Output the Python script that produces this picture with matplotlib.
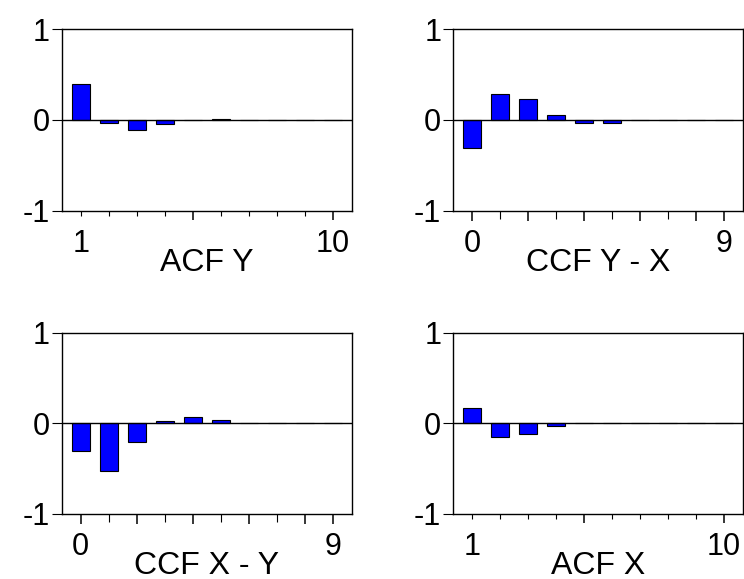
# acf_ccf_plot.py
# Correlogram panels: ACF of Y, CCF Y-X, CCF X-Y, ACF of X

import matplotlib
matplotlib.use("Agg")
import matplotlib.pyplot as plt

# ------------------------------
# Data
# ------------------------------
lags_acf = [1, 2, 3, 4, 5, 6, 7, 8, 9, 10]
lags_ccf = [0, 1, 2, 3, 4, 5, 6, 7, 8, 9]

acf_y = [0.40, -0.03, -0.114, -0.048, 0.0, 0.01, 0.003, 0.003, 0.0, 0.0]
ccf_yx = [-0.305, 0.283, 0.23, 0.055, -0.03, -0.03, 0.0, 0.003, 0.003, 0.003]
ccf_xy = [-0.30, -0.53, -0.205, 0.03, 0.07, 0.04, 0.0, 0.0, 0.0, 0.0]
acf_x = [0.165, -0.155, -0.12, -0.026, 0.005, 0.005, 0.002, 0.0, 0.0, 0.0]

acf_ticklabels = ["1", "", "", "", "", "", "", "", "", "10"]
ccf_ticklabels = ["0", "", "", "", "", "", "", "", "", "9"]
y_ticks = [-1, 0, 1]
y_ticklabels = ["-1", "0", "1"]

titles = ["ACF Y", "CCF Y - X", "CCF X - Y", "ACF X"]

plt.rcParams["font.family"] = ["Liberation Sans", "DejaVu Sans"]

fig = plt.figure(figsize=(7.44, 5.79), dpi=100)

# axes boxes in figure fractions [left, bottom, width, height]
boxes = [
    [0.0829, 0.6361, 0.3902, 0.3133],
    [0.6093, 0.6361, 0.3894, 0.3133],
    [0.0829, 0.1123, 0.3902, 0.3131],
    [0.6093, 0.1123, 0.3894, 0.3131],
]

panels = [
    (lags_acf, acf_y, acf_ticklabels, "acf"),
    (lags_ccf, ccf_yx, ccf_ticklabels, "ccf"),
    (lags_ccf, ccf_xy, ccf_ticklabels, "ccf"),
    (lags_acf, acf_x, acf_ticklabels, "acf"),
]

for box, (lags, vals, xlabels, kind), title in zip(boxes, panels, titles):
    ax = fig.add_axes(box)
    ax.bar(lags, vals, width=0.65, color="#0000FF", edgecolor="black",
           linewidth=0.8, zorder=2)
    ax.axhline(0, color="black", linewidth=1.0, zorder=3)

    ax.set_ylim(-1, 1)
    ax.set_yticks(y_ticks)
    ax.set_yticklabels(y_ticklabels)
    ax.tick_params(axis="y", direction="out", length=7.2, width=0.8,
                   pad=1.5, labelsize=22)

    ax.set_xticks(lags)
    ax.set_xticklabels(xlabels)
    ax.set_xlim(lags[0] - 0.68, lags[-1] + 0.69)

    if kind == "acf":
        ax.tick_params(axis="x", direction="out", length=3.6, width=0.8,
                       pad=9.6, labelsize=22)
        # longer ticks at lags 5 and 10
        for t, lag in zip(ax.xaxis.get_major_ticks(), lags):
            if lag in (5, 10):
                t.tick1line.set_markersize(6.5)
                t.tick1line.set_markeredgewidth(1.1)
    else:
        ax.tick_params(axis="x", direction="out", length=6.0, width=0.8,
                       pad=7.2, labelsize=22)
        for t, lag in zip(ax.xaxis.get_major_ticks(), lags):
            if lag % 2 == 0 or lag == 9:
                t.tick1line.set_markersize(7.2)
                t.tick1line.set_markeredgewidth(1.1)

    for s in ax.spines.values():
        s.set_linewidth(1.0)

    ax.text(0.5, -0.33, title, transform=ax.transAxes, ha="center",
            va="baseline", fontsize=23)

fig.savefig("out.png", dpi=100)
